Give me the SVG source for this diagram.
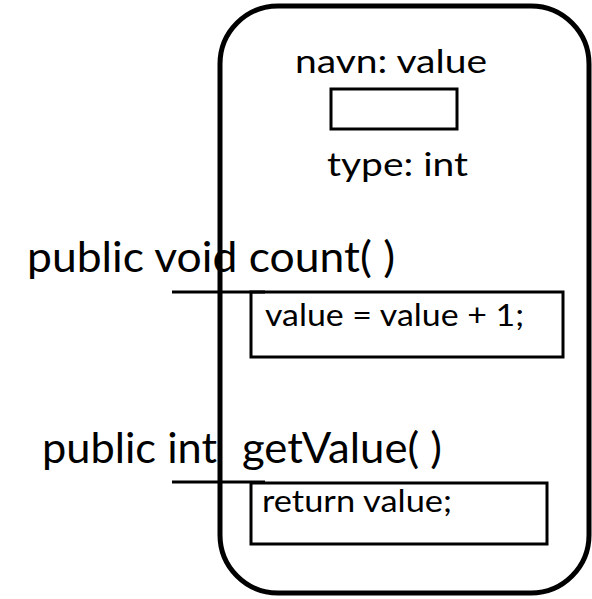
<svg xmlns="http://www.w3.org/2000/svg" width="592" height="599" viewBox="0 0 592 599">
<style>
text{font-family:Lato,"Open Sans","Liberation Sans",sans-serif;fill:#000}
.big{font-size:43px}
.mid{font-size:32px}
.sm{font-size:30px}
.box{fill:none;stroke:#000;stroke-width:3}
.ln{stroke:#000;stroke-width:3}
</style>
<rect width="592" height="599" fill="#fff"/>
<g id="object">
<rect x="220" y="6" width="369" height="587" rx="58" ry="58" fill="none" stroke="#000" stroke-width="5"/>
</g>
<g id="field">
<text class="mid" x="295" y="73" textLength="192" lengthAdjust="spacingAndGlyphs">navn: value</text>
<rect class="box" x="331" y="89" width="126" height="40"/>
<text class="mid" x="327" y="176" textLength="141" lengthAdjust="spacingAndGlyphs">type: int</text>
</g>
<g id="count">
<text class="big" x="27" y="272" textLength="368" lengthAdjust="spacingAndGlyphs">public void count( )</text>
<rect class="box" x="251" y="292" width="312" height="65"/>
<text class="sm" x="265" y="326" textLength="259" lengthAdjust="spacingAndGlyphs">value = value + 1;</text>
</g>
<g id="getValue">
<text class="big" y="463"><tspan x="42" textLength="175" lengthAdjust="spacingAndGlyphs">public int</tspan><tspan x="242" textLength="200" lengthAdjust="spacingAndGlyphs">getValue( )</tspan></text>
<rect class="box" x="251" y="483" width="296" height="61"/>
<text class="sm" x="262" y="512" textLength="190" lengthAdjust="spacingAndGlyphs">return value;</text>
</g>
<g id="connectors">
<line class="ln" x1="172" y1="292" x2="265" y2="292"/>
<line class="ln" x1="172" y1="482" x2="265" y2="482"/>
</g>
</svg>
